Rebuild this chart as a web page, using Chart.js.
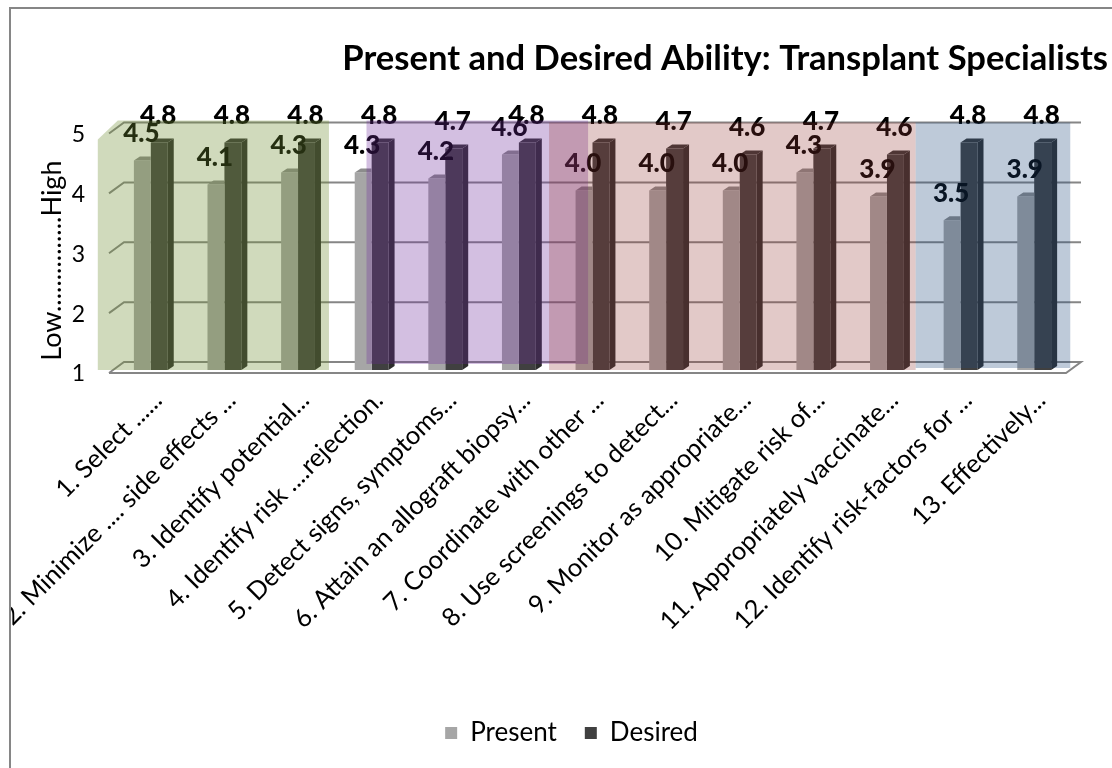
<!DOCTYPE html>
<html>
<head>
<meta charset="utf-8">
<title>Present and Desired Ability</title>
<script src="https://cdn.jsdelivr.net/npm/chart.js@4"></script>
<style>
  html, body { margin: 0; background: #fff; overflow: hidden; }
  #frame { position: absolute; left: 9px; top: 7px; right: 0; bottom: 0;
           border-left: 2px solid #868686; border-top: 2px solid #868686; }
  canvas { display: block; }
</style>
</head>
<body>
<div id="frame"><canvas id="chart" width="1101" height="759"></canvas></div>
<script>
const categories = [
  '1. Select ......', '2. Minimize .... side effects ...', '3. Identify potential...',
  '4. Identify risk ....rejection.', '5. Detect signs, symptoms...', '6. Attain an allograft biopsy...',
  '7. Coordinate with other ...', '8. Use screenings to detect...', '9. Monitor as appropriate...',
  '10. Mitigate risk of...', '11. Appropriately vaccinate...', '12. Identify risk-factors for ...',
  '13. Effectively...'
];
const present = [4.5, 4.1, 4.3, 4.3, 4.2, 4.6, 4.0, 4.0, 4.0, 4.3, 3.9, 3.5, 3.9];
const desired = [4.8, 4.8, 4.8, 4.8, 4.7, 4.8, 4.8, 4.7, 4.6, 4.7, 4.6, 4.8, 4.8];
const yTicks = [1, 2, 3, 4, 5];

const FONT = 'Lato, Carlito, sans-serif';

// translucent boxes over the competency groups, in category units
const overlays = [
  { from: -0.72, to: 2.42, top: -10, bottom: 0, cut: true, color: 'rgba(112,142,51,0.33)' },
  { from: 2.93, to: 5.94, top: -10, bottom: -6, color: 'rgba(110,43,156,0.30)' },
  { from: 5.41, to: 10.39, top: -8, bottom: 0, color: 'rgba(148,54,52,0.27)' },
  { from: 10.39, to: 12.49, top: -8, bottom: -2, color: 'rgba(31,73,125,0.29)' }
];

// Excel style 3D look: back wall is up and right of the bars
const wallDx = 15, wallDy = -8, floorDy = 11;
const barDx = 6, barDy = -4;

const wallPlugin = {
  id: 'wall',
  beforeDatasetsDraw(chart) {
    const { ctx, chartArea, scales } = chart;
    const backLeft = chartArea.left + 10;
    const backRight = chartArea.right + 10;
    ctx.save();
    ctx.strokeStyle = '#868686';
    ctx.lineWidth = 2;
    yTicks.forEach(function(v) {
      const y = scales.y.getPixelForValue(v) + wallDy;
      ctx.beginPath();
      ctx.moveTo(backLeft - wallDx, y + floorDy);
      ctx.lineTo(backLeft, y);
      ctx.lineTo(backRight, y);
      if (v === 1) {
        ctx.lineTo(backRight - wallDx, y + floorDy);
        ctx.lineTo(backLeft - wallDx, y + floorDy);
      }
      ctx.stroke();
    });
    ctx.restore();
  }
};

const barFacesPlugin = {
  id: 'barFaces',
  afterDatasetsDraw(chart) {
    const { ctx, scales } = chart;
    const floor = scales.y.getPixelForValue(1);
    ctx.save();

    // Present: only the top shows, its side is behind the Desired bar
    chart.getDatasetMeta(0).data.forEach(function(bar) {
      const l = bar.x - bar.width / 2, r = bar.x + bar.width / 2;
      ctx.fillStyle = '#8c8c8c';
      ctx.beginPath();
      ctx.moveTo(l, bar.y);
      ctx.lineTo(l + barDx, bar.y + barDy);
      ctx.lineTo(r, bar.y + barDy);
      ctx.lineTo(r, bar.y);
      ctx.fill();
    });

    chart.getDatasetMeta(1).data.forEach(function(bar) {
      const l = bar.x - bar.width / 2, r = bar.x + bar.width / 2;
      ctx.fillStyle = '#363636';
      ctx.beginPath();
      ctx.moveTo(l, bar.y);
      ctx.lineTo(l + barDx, bar.y + barDy);
      ctx.lineTo(r + barDx, bar.y + barDy);
      ctx.lineTo(r, bar.y);
      ctx.fill();
      ctx.fillStyle = '#2c2c2c';
      ctx.beginPath();
      ctx.moveTo(r, bar.y);
      ctx.lineTo(r + barDx, bar.y + barDy);
      ctx.lineTo(r + barDx, floor + barDy);
      ctx.lineTo(r, floor);
      ctx.fill();
    });

    // Value labels, overlays get drawn over them later
    ctx.fillStyle = '#000';
    ctx.font = '900 26px ' + FONT;
    ctx.textAlign = 'center';
    ctx.textBaseline = 'middle';
    chart.data.datasets.forEach(function(ds, i) {
      chart.getDatasetMeta(i).data.forEach(function(bar, j) {
        ctx.fillText(ds.data[j].toFixed(1), bar.x - 1, bar.y - 27);
      });
    });
    ctx.restore();
  }
};

const overlayPlugin = {
  id: 'overlays',
  afterDraw(chart) {
    const { ctx, chartArea, scales } = chart;
    const step = scales.x.getPixelForValue(1) - scales.x.getPixelForValue(0);
    const x0 = scales.x.getPixelForValue(0);
    ctx.save();
    overlays.forEach(function(o) {
      const l = x0 + o.from * step, r = x0 + o.to * step;
      const t = chartArea.top + o.top, b = chartArea.bottom + o.bottom;
      ctx.fillStyle = o.color;
      ctx.beginPath();
      if (o.cut) {
        ctx.moveTo(l, t + 19);
        ctx.lineTo(l + 20, t);
      } else {
        ctx.moveTo(l, t);
      }
      ctx.lineTo(r, t);
      ctx.lineTo(r, b);
      ctx.lineTo(l, b);
      ctx.closePath();
      ctx.fill();
    });
    ctx.restore();
  }
};

new Chart(document.getElementById('chart').getContext('2d'), {
  type: 'bar',
  data: {
    labels: categories,
    datasets: [
      { label: 'Present', data: present, backgroundColor: '#a6a6a6' },
      { label: 'Desired', data: desired, backgroundColor: '#404040' }
    ]
  },
  options: {
    responsive: false,
    animation: false,
    categoryPercentage: 0.46,
    barPercentage: 1,
    layout: { padding: { left: 24, right: 4, bottom: 12 } },
    scales: {
      x: {
        grid: { display: false },
        border: { display: false },
        afterFit: function(s) { s.height = 322; },
        ticks: {
          autoSkip: false, minRotation: 45, maxRotation: 45,
          padding: 7, labelOffset: 7, color: '#000',
          font: { family: FONT, size: 25.5 }
        }
      },
      y: {
        min: 1,
        max: 5,
        grid: { display: false },
        border: { display: false },
        afterFit: function(s) { s.width = 79; },
        ticks: {
          stepSize: 1, padding: 21, color: '#000',
          font: { family: FONT, size: 23, lineHeight: 0.35 },
          // blank first line pushes the number down to the front plane
          callback: function(v) { return ['', String(v)]; }
        },
        title: {
          display: true, text: 'Low...............High   ', color: '#000',
          font: { family: FONT, size: 27, lineHeight: 1 }, padding: { top: 4, bottom: 0 }
        }
      },
      // empty axis, keeps room on the right while the title runs to the edge
      yRight: {
        position: 'right',
        grid: { display: false },
        border: { display: false },
        ticks: { display: false },
        afterFit: function(s) { s.width = 37; }
      }
    },
    plugins: {
      title: {
        display: true, align: 'end', color: '#000',
        text: 'Present and Desired Ability: Transplant Specialists',
        font: { family: FONT, size: 34.6, weight: 'bold', lineHeight: 1.2 },
        padding: { top: 29, bottom: 51 }
      },
      legend: {
        position: 'bottom',
        labels: {
          boxWidth: 12, boxHeight: 12, padding: 28, color: '#000',
          font: { family: FONT, size: 26 }
        }
      },
      tooltip: { enabled: false }
    }
  },
  plugins: [wallPlugin, barFacesPlugin, overlayPlugin]
});
</script>
</body>
</html>
